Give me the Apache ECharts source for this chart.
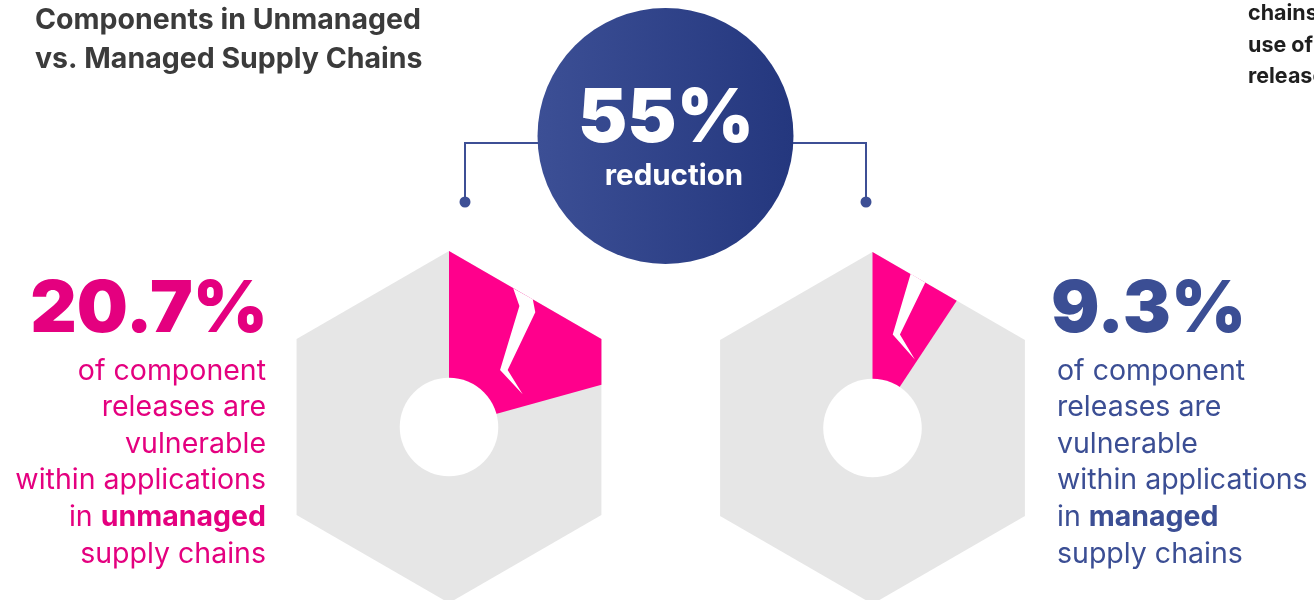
<!DOCTYPE html>
<html>
<head>
<meta charset="utf-8">
<script src="https://cdn.jsdelivr.net/npm/echarts@6/dist/echarts.min.js"></script>
<style>
  html, body { margin: 0; padding: 0; background: #ffffff; }
  #chart { width: 1314px; height: 600px; }
</style>
</head>
<body>
<div id="chart"></div>
<script>
// Share of component releases that are vulnerable, per supply-chain type
const groups = ['unmanaged', 'managed'];
const vulnerableShare = [20.7, 9.3];
const groupColors = ['#e4007f', '#3b4e94'];
const titleLines = ['Components in Unmanaged', 'vs. Managed Supply Chains'];
const sideNoteLines = ['chains', 'use of', 'releases'];

const FONT = 'Inter, "Noto Sans", sans-serif';
const WEDGE = '#ff008c';
const NUT = '#e6e6e6';
const HOLE = 0.28; // hole radius as a fraction of the hexagon radius

// Crack drawn across each wedge, as [radius fraction, angle in %] pairs
const CRACKS = [
  [[0.868, 6.90], [0.796, 8.38], [0.435, 11.62], [0.458, 18.35], [0.465, 12.72], [0.816, 10.26], [0.868, 9.24]],
  [[0.903, 3.86], [0.544, 3.39], [0.458, 8.81], [0.554, 4.54], [0.879, 5.54]]
];

const reduction = Math.round((1 - vulnerableShare[1] / vulnerableShare[0]) * 100);

// distance from the centre to the hexagon edge (pointy top), in radius units
function hexRadius(pct) {
  const deg = ((pct / 100) * 360) % 60;
  return Math.cos(Math.PI / 6) / Math.cos((deg - 30) * Math.PI / 180);
}

function renderNut(params, api) {
  const value = api.value(1);
  const c = api.coord([0, 0]);
  const hex = [];
  for (let k = 0; k < 6; k++) hex.push(api.coord([1, k * 100 / 6]));
  const wedge = [c];
  for (let k = 0; k < 6 && k * 100 / 6 < value; k++) wedge.push(api.coord([1, k * 100 / 6]));
  wedge.push(api.coord([hexRadius(value), value]));
  const crack = CRACKS[params.seriesIndex].map(p => api.coord(p));
  const h = api.coord([HOLE, 0]);
  const holeR = Math.hypot(h[0] - c[0], h[1] - c[1]);
  return {
    type: 'group',
    children: [
      { type: 'polygon', shape: { points: hex }, style: { fill: NUT } },
      { type: 'polygon', shape: { points: wedge }, style: { fill: WEDGE } },
      { type: 'polygon', shape: { points: crack }, style: { fill: '#ffffff' } },
      { type: 'circle', shape: { cx: c[0], cy: c[1], r: holeR }, style: { fill: '#ffffff' } }
    ]
  };
}

// place text by its alphabetic baseline
function label(text, x, baseline, size, weight, fill, align, rich) {
  return {
    type: 'text',
    x: x,
    y: baseline - size * 0.28,
    style: {
      text: text,
      font: weight + ' ' + size + 'px ' + FONT,
      fill: fill,
      align: align || 'left',
      verticalAlign: 'middle',
      rich: rich
    }
  };
}

function descLines(name) {
  return ['of component', 'releases are', 'vulnerable', 'within applications',
          'in {b|' + name + '}', 'supply chains'];
}

const chart = echarts.init(document.getElementById('chart'), null, { renderer: 'canvas' });

const graphics = [];
// title
titleLines.forEach((t, i) => graphics.push(label(t, 35, 28 + i * 39, 28.5, 'bold', '#3b3b3b')));
// side note cut by the right edge
sideNoteLines.forEach((t, i) => graphics.push(label(t, 1248, 20 + i * 31.5, 21.5, 'bold', '#1f1f1f')));

// connectors from the reduction badge down to each nut
graphics.push({ type: 'polyline', shape: { points: [[540, 143], [465, 143], [465, 202]] },
  style: { stroke: '#3d4f95', lineWidth: 2, fill: null } });
graphics.push({ type: 'polyline', shape: { points: [[791, 143], [866, 143], [866, 202]] },
  style: { stroke: '#3d4f95', lineWidth: 2, fill: null } });
graphics.push({ type: 'circle', shape: { cx: 465, cy: 202, r: 5.5 }, style: { fill: '#3d4f95' } });
graphics.push({ type: 'circle', shape: { cx: 866, cy: 202, r: 5.5 }, style: { fill: '#3d4f95' } });

// reduction badge
graphics.push({
  type: 'circle', shape: { cx: 665.5, cy: 136, r: 128 },
  style: { fill: new echarts.graphic.LinearGradient(0, 0, 1, 0, [
    { offset: 0, color: '#3c4f95' }, { offset: 1, color: '#24377e' }]) }
});
graphics.push(label(reduction + '%', 666, 140, 74, 900, '#ffffff', 'center'));
graphics.push(label('reduction', 674, 184, 29.5, 'bold', '#ffffff', 'center'));

// big percentages and descriptions
const sides = [
  { x: 265, bigX: 268, align: 'right' },
  { x: 1054, bigX: 1051, align: 'left' }
];
groups.forEach((g, i) => {
  const s = sides[i];
  graphics.push(label(vulnerableShare[i].toFixed(1) + '%', s.bigX, 331, 72, 900, groupColors[i], s.align));
  descLines(g).forEach((t, j) => {
    graphics.push(label(t, s.align === 'right' ? s.x + 1 : s.x + 3, 379 + j * 36.6, 28.5, 'normal',
      groupColors[i], s.align, { b: { fontWeight: 'bold', fontSize: 28.5, fontFamily: FONT, fill: groupColors[i] } }));
  });
});

const hidden = { show: false };
chart.setOption({
  animation: false,
  backgroundColor: '#ffffff',
  polar: [
    { center: [449, 427], radius: 176 },
    { center: [872.5, 428], radius: 176 }
  ],
  angleAxis: [0, 1].map(i => ({
    polarIndex: i, type: 'value', min: 0, max: 100, startAngle: 90, clockwise: true,
    axisLine: hidden, axisTick: hidden, axisLabel: hidden, splitLine: hidden
  })),
  radiusAxis: [0, 1].map(i => ({
    polarIndex: i, type: 'value', min: 0, max: 1,
    axisLine: hidden, axisTick: hidden, axisLabel: hidden, splitLine: hidden
  })),
  series: groups.map((g, i) => ({
    type: 'custom',
    name: g,
    coordinateSystem: 'polar',
    polarIndex: i,
    renderItem: renderNut,
    silent: true,
    data: [[1, vulnerableShare[i]]]
  })),
  graphic: graphics
});
</script>
</body>
</html>
